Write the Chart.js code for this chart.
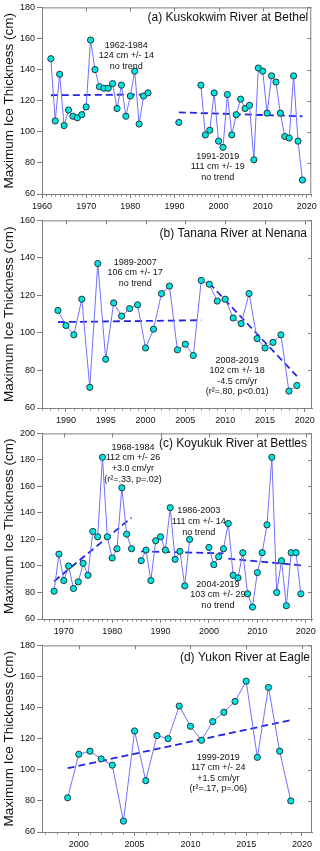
<!DOCTYPE html>
<html>
<head>
<meta charset="utf-8">
<title>Maximum Ice Thickness</title>
<script src="https://cdn.jsdelivr.net/npm/chart.js@4.4.1/dist/chart.umd.min.js"></script>
<style>
  html, body { margin: 0; padding: 0; background: #fff; }
  #wrap { position: relative; width: 320px; height: 851px; }
  canvas { position: absolute; left: 0; }
</style>
</head>
<body>
<div id="wrap">
  <canvas id="chartA" width="320" height="213" style="top:0px"></canvas>
  <canvas id="chartB" width="320" height="213" style="top:213px"></canvas>
  <canvas id="chartC" width="320" height="212" style="top:426px"></canvas>
  <canvas id="chartD" width="320" height="213" style="top:638px"></canvas>
</div>
<script>
// ---- datos ----
const yTitle = 'Maximum Ice Thickness (cm)';

// (a) Kuskokwim River at Bethel
const titleA = '(a) Kuskokwim River at Bethel';
const yearsA = [1962, 1963, 1964, 1965, 1966, 1967, 1968, 1969, 1970, 1971, 1972, 1973, 1974, 1975, 1976, 1977, 1978, 1979, 1980, 1981, 1982, 1983, 1984,
  1985, 1986, 1987, 1988, 1989, 1990, 1991, 1992, 1993, 1994, 1995,
  1996, 1997, 1998, 1999, 2000, 2001, 2002, 2003, 2004, 2005, 2006, 2007, 2008, 2009, 2010, 2011, 2012, 2013, 2014, 2015, 2016, 2017, 2018, 2019];
const valuesA = [147, 107, 137, 104, 114, 110, 109, 111, 116, 159, 140, 129, 128, 128, 131, 115, 130, 110, 123, 139, 105, 123, 125,
  null, null, null, null, null, null, 106, null, null, null, null,
  130, 98, 101, 125, 94, 90, 124, 98, 111, 121, 115, 117, 82, 141, 139, 112, 136, 132, 112, 97, 96, 136, 94, 69];
const trendA1 = { years: [1962, 1984], values: [123.5, 124] };
const trendA2 = { years: [1991, 2019], values: [112.5, 110] };
const noteA1 = ['1962-1984', '124 cm +/- 14', 'no trend'];
const noteA2 = ['1991-2019', '111 cm +/- 19', 'no trend'];
const xTicksA = [1960, 1970, 1980, 1990, 2000, 2010, 2020];
const yTicksA = [60, 80, 100, 120, 140, 160, 180];

// (b) Tanana River at Nenana
const titleB = '(b) Tanana River at Nenana';
const yearsB = [1989, 1990, 1991, 1992, 1993, 1994, 1995, 1996, 1997, 1998, 1999, 2000, 2001, 2002, 2003, 2004,
  2005, 2006, 2007, 2008, 2009, 2010, 2011, 2012, 2013, 2014, 2015, 2016, 2017, 2018, 2019];
const valuesB = [112, 104, 99, 118, 71, 137, 86, 116, 109, 113, 115, 92, 102, 121, 125, 91,
  94, 88, 128, 126, 117, 118, 108, 105, 121, 97, 92, 95, 99, 69, 72];
const trendB1 = { years: [1989, 2007], values: [105.8, 106.8] };
const trendB2 = { years: [2008, 2019], values: [126.5, 77] };
const noteB1 = ['1989-2007', '106 cm +/- 17', 'no trend'];
const noteB2 = ['2008-2019', '102 cm +/- 18', '-4.5 cm/yr', '(r\u00b2=.80, p<0.01)'];
const xTicksB = [1990, 1995, 2000, 2005, 2010, 2015, 2020];
const yTicksB = [60, 80, 100, 120, 140, 160];

// (c) Koyukuk River at Bettles
const titleC = '(c) Koyukuk River at Bettles';
const yearsC = [1968, 1969, 1970, 1971, 1972, 1973, 1974, 1975, 1976, 1977, 1978, 1979, 1980, 1981, 1982, 1983, 1984,
  1985, 1986, 1987, 1988, 1989, 1990, 1991, 1992, 1993, 1994, 1995, 1996, 1997, 1998, 1999,
  2000, 2001, 2002, 2003, 2004, 2005, 2006, 2007, 2008, 2009, 2010, 2011, 2012, 2013, 2014, 2015, 2016, 2017, 2018, 2019];
const valuesC = [81, 109, 89, 100, 83, 88, 102, 93, 126, 122, 182, 122, 106, 113, 159, 124, 113,
  null, 104, 112, 89, 119, 122, 112, 144, 105, 111, 85, 120, null, null, null,
  114, 101, 107, 113, 132, 93, 91, 110, 79, 69, 95, 110, 131, 182, 80, 104, 70, 110, 110, 79];
const trendC1 = { years: [1968, 1984], values: [88.5, 136.5] };
const trendC2 = { years: [1986, 2003], values: [111, 109.5] };
const trendC3 = { years: [2004, 2019], values: [105.5, 100.5] };
const noteC1 = ['1968-1984', '112 cm +/- 26', '+3.0 cm/yr', '(r\u00b2=.33, p=.02)'];
const noteC2 = ['1986-2003', '111 cm +/- 14', 'no trend'];
const noteC3 = ['2004-2019', '103 cm +/- 29', 'no trend'];
const xTicksC = [1970, 1980, 1990, 2000, 2010, 2020];
const yTicksC = [60, 80, 100, 120, 140, 160, 180, 200];

// (d) Yukon River at Eagle
const titleD = '(d) Yukon River at Eagle';
const yearsD = [1999, 2000, 2001, 2002, 2003, 2004, 2005, 2006, 2007, 2008, 2009, 2010, 2011, 2012, 2013, 2014, 2015, 2016, 2017, 2018, 2019];
const valuesD = [82, 110, 112, 107, 103, 67, 125, 93, 122, 120, 141, 128, 119, 131, 137, 144, 157, 108, 153, 112, 80];
const trendD1 = { years: [1999, 2019], values: [101, 132] };
const noteD1 = ['1999-2019', '117 cm +/- 24', '+1.5 cm/yr', '(r\u00b2=.17, p=.06)'];
const xTicksD = [2000, 2005, 2010, 2015, 2020];
const yTicksD = [60, 80, 100, 120, 140, 160, 180];

// ---- estilo ----
const FONT = '"Liberation Sans", Arial, Helvetica, sans-serif';
const axisColor = '#7f7f7f';
const textColor = '#111';
const lineColor = 'rgb(112,112,255)';
const dotColor = 'rgb(0,228,228)';
const trendColor = 'rgb(36,36,230)';

// marco, ticks interiores/menores, titulo y notas
const framePlugin = {
  id: 'frame',
  afterDraw(chart) {
    const p = chart.options.plugins.frame;
    const { ctx, chartArea: a, scales: { x, y } } = chart;
    ctx.save();
    ctx.strokeStyle = axisColor;
    ctx.lineWidth = 1;
    ctx.beginPath();
    ctx.moveTo(a.left, a.top + 0.5); ctx.lineTo(a.right, a.top + 0.5);
    ctx.moveTo(a.right - 0.5, a.top); ctx.lineTo(a.right - 0.5, a.bottom);
    p.xTicks.forEach(v => {
      const px = Math.round(x.getPixelForValue(v)) + 0.5;
      ctx.moveTo(px, a.top); ctx.lineTo(px, a.top + 4);
    });
    p.yTicks.forEach(v => {
      const py = Math.round(y.getPixelForValue(v)) + 0.5;
      ctx.moveTo(a.right, py); ctx.lineTo(a.right - 4, py);
    });
    for (let yr = Math.ceil(x.min); yr <= x.max; yr++) {
      if (p.xTicks.includes(yr)) continue;
      const px = Math.round(x.getPixelForValue(yr)) + 0.5;
      ctx.moveTo(px, a.bottom); ctx.lineTo(px, a.bottom + 2.5);
    }
    ctx.stroke();

    ctx.fillStyle = textColor;
    ctx.font = '12px ' + FONT;
    ctx.textAlign = 'right';
    ctx.textBaseline = 'middle';
    ctx.fillText(p.title, a.right - p.titleDx, a.top + p.titleDy);

    ctx.font = '9px ' + FONT;
    ctx.textAlign = 'center';
    p.notes.forEach(n => {
      const px = x.getPixelForValue(n.x);
      const py = y.getPixelForValue(n.y);
      n.text.forEach((t, i) => ctx.fillText(t, px, py + i * 10.6));
    });
    ctx.restore();
  }
};

function toPoints(xs, ys) {
  return xs.map((xv, i) => ({ x: xv, y: ys[i] }));
}

function makePanel(p) {
  const canvas = document.getElementById(p.id);
  const H = canvas.height;
  const datasets = [{
    data: toPoints(p.years, p.values),
    showLine: true,
    spanGaps: false,
    borderColor: lineColor,
    borderWidth: 1,
    pointRadius: 3.1,
    pointBackgroundColor: dotColor,
    pointBorderColor: '#203838',
    pointBorderWidth: 1,
    order: 1
  }];
  p.trends.forEach(t => datasets.push({
    data: toPoints(t.years, t.values),
    showLine: true,
    borderColor: trendColor,
    borderWidth: 1.8,
    borderDash: [7, 4],
    pointRadius: 0,
    order: 2
  }));

  new Chart(canvas, {
    type: 'scatter',
    data: { datasets },
    plugins: [framePlugin],
    options: {
      responsive: false,
      animation: false,
      events: [],
      layout: { padding: { left: 0, top: p.top, right: 8, bottom: 0 } },
      plugins: {
        legend: { display: false },
        tooltip: { enabled: false },
        frame: { xTicks: p.xTicks, yTicks: p.yTicks, title: p.title, titleDx: p.titleDx, titleDy: p.titleDy, notes: p.notes }
      },
      scales: {
        x: {
          type: 'linear',
          min: p.xMin,
          max: p.xMax,
          afterBuildTicks: s => { s.ticks = p.xTicks.map(v => ({ value: v })); },
          afterFit: s => { s.height = H - p.bottom; },
          grid: { drawOnChartArea: false, color: axisColor, tickLength: 4 },
          border: { color: axisColor },
          ticks: { color: textColor, font: { family: FONT, size: 9 }, padding: 3, maxRotation: 0, callback: v => String(v) }
        },
        y: {
          min: p.yMin,
          max: p.yMax,
          afterBuildTicks: s => { s.ticks = p.yTicks.map(v => ({ value: v })); },
          afterFit: s => { s.width = 42; },
          grid: { drawOnChartArea: false, color: axisColor, tickLength: 5 },
          border: { color: axisColor },
          ticks: { color: textColor, font: { family: FONT, size: 9 }, padding: 2 },
          title: { display: true, text: yTitle, color: textColor, font: { family: FONT, size: 13.5 }, padding: { top: 1, bottom: 0 } }
        }
      }
    }
  });
}

makePanel({ id: 'chartA', years: yearsA, values: valuesA, trends: [trendA1, trendA2],
  xMin: 1960, xMax: 2021, xTicks: xTicksA, yMin: 60, yMax: 180, yTicks: yTicksA,
  top: 7, bottom: 194, title: titleA, titleDx: 3, titleDy: 10,
  notes: [{ text: noteA1, x: 1979.1, y: 155.6 }, { text: noteA2, x: 1999.8, y: 84.4 }] });

makePanel({ id: 'chartB', years: yearsB, values: valuesB, trends: [trendB1, trendB2],
  xMin: 1987, xMax: 2020.9, xTicks: xTicksB, yMin: 60, yMax: 160, yTicks: yTicksB,
  top: 7, bottom: 195, title: titleB, titleDx: 5, titleDy: 13,
  notes: [{ text: noteB1, x: 1998.7, y: 137.7 }, { text: noteB2, x: 2011.5, y: 85.5 }] });

makePanel({ id: 'chartC', years: yearsC, values: valuesC, trends: [trendC1, trendC2, trendC3],
  xMin: 1965.5, xMax: 2021.3, xTicks: xTicksC, yMin: 60, yMax: 200, yTicks: yTicksC,
  top: 6, bottom: 193, title: titleC, titleDx: 5, titleDy: 10,
  notes: [{ text: noteC1, x: 1984.3, y: 189.5 }, { text: noteC2, x: 1997.9, y: 141.6 }, { text: noteC3, x: 2001.85, y: 86.2 }] });

makePanel({ id: 'chartD', years: yearsD, values: valuesD, trends: [trendD1],
  xMin: 1996.7, xMax: 2020.9, xTicks: xTicksD, yMin: 60, yMax: 180, yTicks: yTicksD,
  top: 7, bottom: 194, title: titleD, titleDx: 2, titleDy: 12,
  notes: [{ text: noteD1, x: 2012.5, y: 108.1 }] });
</script>
</body>
</html>
